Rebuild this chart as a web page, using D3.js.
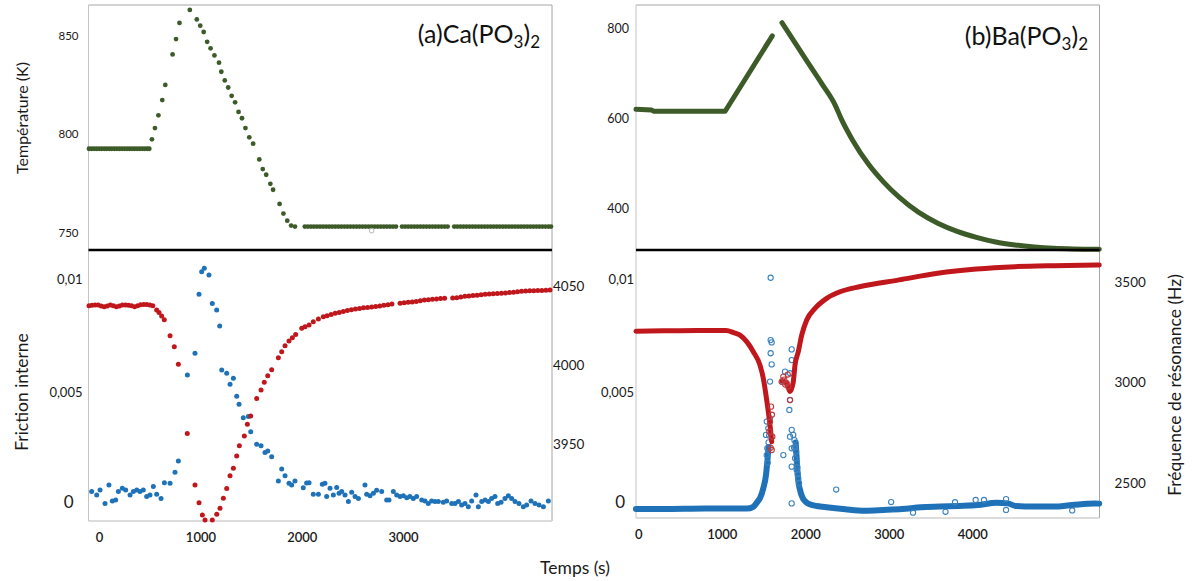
<!DOCTYPE html>
<html><head><meta charset="utf-8">
<script src="https://cdn.jsdelivr.net/npm/d3@7"></script>
<style>
body{margin:0;background:#fff;}
svg{display:block;}
</style></head><body>
<svg id="chart" width="1193" height="581"></svg>
<script>
// ---------------- DATA ----------------
// (a) Ca(PO3)2 temperature (K) vs time (s)
const caTempPlateauHighTimes = [-100,-75,-50,-25,0,25,50,75,100,125,150,175,200,225,250,275,300,325,350,375,400,425,450,475,495];
const caTempPlateauHighK = 792.5;
const caTempRampTimes = [521,551,585,623,653,725,759,793,895,964,998,1032,1066,1100,1138,1183,1206,1240,1274,1308,1342,1376,1410,1444,1482,1520,1581,1615,1649,1690,1717,1781,1819,1857,1895,1933];
const caTempRampK     = [797.3,803.0,809.5,817.2,824.9,840.4,848.2,856.4,863.0,858.2,855.0,851.8,846.8,843.5,839.9,836.2,831.6,827.2,823.6,819.4,816.1,811.2,808.0,803.0,798.3,795.1,787.1,782.2,779.3,774.7,771.7,764.5,759.6,756.0,753.5,753.0];
const caTempPlateauLowTimes = [2030,2060,2090,2120,2150,2180,2210,2240,2270,2300,2330,2360,2390,2420,2450,2480,2510,2540,2570,2600,2630,2660,2690,2720,2750,2780,2810,2840,2870,2900,2930,2990,3020,3050,3080,3110,3140,3170,3200,3230,3260,3290,3320,3350,3380,3410,3440,3505,3535,3565,3595,3625,3655,3685,3715,3745,3775,3805,3835,3865,3895,3925,3955,3985,4015,4045,4075,4105,4135,4165,4195,4225,4255,4285,4315,4345,4375,4405,4435,4460];
const caTempPlateauLowK = 753.0;
const caTempStray = [[2690, 750.9]];

// (a) resonance frequency (Hz) - red
const caFreqTimes = [-100,-70,-40,-10,20,50,80,110,140,170,200,230,260,290,320,350,380,410,440,470,500,530,
  568,591,617,643,700,742,782,870,946,986,1019,1045,1117,1161,1193,1226,1259,1292,1325,1358,1384,1433,1463,1496,1555,1598,1630,1664,1703,1769,1802,1835,1874,1907,1940,2000,2032,2072,2114,2164,2213,
  2250,2290,2330,2370,2410,2450,2490,2530,2570,2610,2650,2690,2730,2770,2810,2850,2890,2970,3010,3050,3090,3130,3170,3210,3250,3290,3330,3370,3410,3490,3530,3570,3610,3650,3690,3730,3770,3810,3850,3890,3930,3970,4010,4050,4090,4130,4170,4210,4250,4290,4330,4370,4410,4450];
const caFreqHz = [4037.9,4038.1,4038.3,4038.3,4037.7,4037.2,4037.7,4038.3,4037.9,4037.2,4037.7,4038.3,4038.3,4038.1,4037.9,4037.2,4037.9,4038.5,4038.7,4038.7,4038.3,4037.9,
  4035.1,4033.6,4031.3,4029.0,4018.8,4011.8,4000.6,3956.5,3923.8,3912.5,3904.7,3901.5,3901.5,3905.2,3909.0,3915.3,3921.6,3929.7,3934.4,3942.2,3948.8,3955.0,3962.4,3967.7,3978.9,3984.2,3989.1,3993.3,3997.1,4004.8,4008.6,4012.4,4015.4,4017.5,4019.6,4023.5,4024.5,4025.6,4027.7,4029.4,4030.9,
  4031.5,4032.3,4033.0,4033.6,4034.2,4034.8,4035.3,4035.8,4036.1,4036.5,4036.8,4037.0,4037.3,4037.7,4038.2,4038.5,4038.9,4039.5,4039.8,4040.0,4040.2,4040.5,4041.0,4041.5,4041.7,4042.0,4042.2,4042.4,4042.6,4042.8,4043.0,4043.4,4043.8,4044.0,4044.3,4044.5,4044.8,4045.1,4045.3,4045.4,4045.6,4045.8,4046.0,4046.3,4046.5,4046.8,4047.0,4047.2,4047.3,4047.4,4047.5,4047.6,4047.7,4047.8];

// (a) internal friction - blue
const caFricTimes = [-74,-24,9,58,97,130,163,190,229,262,305,338,371,403,436,469,502,535,568,611,644,700,749,782,871,946,986,1012,1038,1084,1117,1160,1190,1210,1259,1292,1325,1358,1381,1423,1473,1496,1555,1598,1637,1664,1703,1769,1802,1835,1874,1900,1933,2015,2048,2072,2114,2164,2203,2229,
  2246,2279,2312,2345,2368,2394,2427,2460,2493,2526,2559,2624,2641,2674,2707,2739,2789,2838,2861,2904,2937,2970,3003,3036,3068,3101,3134,3184,3217,3249,3282,3315,3348,3397,3430,3480,3513,3546,3578,3611,3644,3677,3720,3743,3776,3809,3842,3874,3907,3934,3967,4006,4039,4072,4105,4144,4187,4220,4263,4302,4342,4385,4434];
const caFricQ = [0.00063,0.00048,0.0007,0.00011,0.00092,0.00022,0.00026,0.00063,0.00078,0.0007,0.00048,0.00063,0.0007,0.00063,0.0007,0.00041,0.00048,0.00085,0.00051,0.00033,0.00102,0.001,0.00148,0.00198,0.00577,0.00673,0.00933,0.01033,0.01048,0.01018,0.00893,0.00864,0.00793,0.00599,0.00585,0.00536,0.00563,0.00483,0.00448,0.00389,0.00394,0.00327,0.00272,0.00265,0.00236,0.00242,0.00217,0.0011,0.00163,0.00133,0.001,0.00092,0.0011,0.0008,0.00101,0.00102,0.00051,0.00051,0.00095,0.001,
  0.00041,0.00078,0.00048,0.00081,0.00056,0.00063,0.00048,0.00019,0.0006,0.00041,0.00033,0.00092,0.00051,0.00045,0.00056,0.00069,0.00063,0.00026,0.00026,0.00063,0.00048,0.00041,0.00045,0.00036,0.00041,0.00033,0.00041,0.00026,0.00022,0.00011,0.00022,0.00019,0.00019,0.00016,0.00022,0.00011,0.00011,0.00019,0.00004,0.00011,-0.00004,0.00022,0.00048,-0.00004,0.00019,0.00026,0.00019,0.00033,0.00041,0.00011,0.00016,0.00033,0.00045,0.00033,0.00019,0.00011,-0.00004,0.00004,0.00022,0.00011,0.00004,-0.00004,0.00022];

// (b) Ba(PO3)2 temperature (K) vs time (s)
const baTempSeg1 = [[-28,620.6],[160,619.1],[183,616.2],[1040,616.2],[1605,783.6]];
const baTempSeg2 = [[1720,812.6],[2012,729.5],[2197,677.6],[2359,629.5],[2429,600],[2568,551.7],[2753,499.8],[2938,459.2],[3123,425.8],[3354,392.5],[3586,368.1],[3818,350.1],[4049,336.8],[4280,326.4],[4512,319.8],[4744,315.3],[4975,312.4],[5207,310.9],[5521,310.2]];

// (b) resonance frequency (Hz) - red band
const baFreqSeg1 = [[-28,3256],[300,3258],[700,3260],[1050,3260],[1150,3248],[1218,3237],[1298,3204],[1377,3154],[1457,3087],[1497,3021],[1529,2938],[1557,2855],[1577,2788],[1598,2705]];
const baFreqSeg2 = [[1720,3010],[1777,2997],[1817,2955],[1856,3004],[1877,3088],[1916,3154],[1957,3237],[2017,3312],[2116,3370],[2256,3420],[2416,3453],[2660,3479],[3123,3512],[3586,3545],[4049,3566],[4512,3578],[4975,3583],[5520,3586]];
const baFreqScatter = [[1569,2755],[1577,2805],[1586,2675],[1598,2664],[1605,2730],[1590,2880],[1600,2840],[1717,3004],[1737,3030],[1748,3015],[1777,2997],[1796,2980],[1817,2913],[1790,3040],[1760,2990]];

// (b) internal friction - blue band
const baFricSeg1 = [[-28,-0.00014],[300,-0.00014],[800,-0.00012],[1300,-0.00012],[1377,-0.00004],[1430,0.0002],[1457,0.00034],[1497,0.00078],[1529,0.00136],[1545,0.00195],[1560,0.0026]];
const baFricSeg2 = [[1885,0.0028],[1895,0.0022],[1905,0.0016],[1916,0.0011],[1937,0.0007],[1984,0.00026],[2074,0.00004],[2255,-0.00006],[2481,-0.00015],[2708,-0.00021],[2933,-0.00018],[3159,-0.00014],[3386,-0.00006],[3612,-0.00003],[3838,0],[4064,0.00004],[4290,0.00014],[4426,0.00011],[4516,0],[4742,-0.00003],[4969,-0.00003],[5195,0.00004],[5466,0.00011],[5520,0.0001]];
const baFricScatter = [[1585,0.01006],[1585,0.00731],[1597,0.00721],[1585,0.00673],[1597,0.00624],[1577,0.00548],[1837,0.0069],[1837,0.00643],[1757,0.00592],[1729,0.00548],[1817,0.00585],[1809,0.00423],[1817,0.00467],[1837,0.00335],[1817,0.00305],[1856,0.00313],[1737,0.00224],[1837,0.00254],[1865,0.00257],[1837,0.00173],[1877,0.0021],[1897,0.00158],[1916,0.00122],[1837,0.00011],[2370,0.00072],[1538,0.00224],[1545,0.00254],[1529,0.00313],[1557,0.00342],[1538,0.00372],[1577,0.00386],[1560,0.0028],[1567,0.0031],[1550,0.0019],[1870,0.0029],[1880,0.0026],[1890,0.0024],[1900,0.0019],[1905,0.0017],[1910,0.0014],[1925,0.001],[3028,0.00017],[3290,-0.0003],[3679,-0.00026],[3793,0.00016],[4040,0.00026],[4140,0.00026],[4404,0.0003],[4404,-0.00018],[5196,-0.0002]];

// tick labels
const xTicksA = [0,1000,2000,3000];
const xTicksB = [0,1000,2000,3000,4000];
const tempTicksA = [750,800,850];
const tempTicksB = [400,600,800];
const fricTicks = [0,0.005,0.01];
const freqTicksA = [3950,4000,4050];
const freqTicksB = [2500,3000,3500];

// ---------------- DRAWING ----------------
const FONT = "Lato, 'Open Sans', 'DejaVu Sans', sans-serif";
const GREEN = "#3d5b28", RED = "#c0171c", BLUE = "#1f72b8";
const svg = d3.select('#chart');

const PA = {x0:88.5, x1:552, top:5, mid:250, bottom:521};
const PB = {x0:636, x1:1099.5, top:5, mid:250, bottom:518};

const xA = d3.scaleLinear().domain([-105, 4470]).range([PA.x0, PA.x1]);
const xB = d3.scaleLinear().domain([-27.5, 5523]).range([PB.x0, PB.x1]);
const yTempA = d3.scaleLinear().domain([741.1, 865.5]).range([PA.mid, PA.top]);
const yTempB = d3.scaleLinear().domain([308.65, 851.9]).range([PB.mid, PB.top]);
const yFricA = d3.scaleLinear().domain([-0.000666, 0.011284]).range([PA.bottom, PA.mid]);
const yFricB = d3.scaleLinear().domain([-0.000534, 0.011284]).range([PB.bottom, PB.mid]);
const yFreqA = d3.scaleLinear().domain([3900.9, 4073.3]).range([PA.bottom, PA.mid]);
const yFreqB = d3.scaleLinear().domain([2325, 3661]).range([PB.bottom, PB.mid]);

// frames
function frame(P){
  const g = svg.append('g');
  g.append('line').attr('x1',P.x0).attr('x2',P.x1).attr('y1',P.top).attr('y2',P.top).attr('stroke','#a6a6a6');
  g.append('line').attr('x1',P.x0).attr('x2',P.x0).attr('y1',P.top).attr('y2',P.bottom).attr('stroke','#c4c4c4');
  g.append('line').attr('x1',P.x1).attr('x2',P.x1).attr('y1',P.top).attr('y2',P.bottom).attr('stroke','#a6a6a6');
  g.append('line').attr('x1',P.x0).attr('x2',P.x1).attr('y1',P.bottom).attr('y2',P.bottom).attr('stroke','#d0d0d0').attr('stroke-width',1.5);
}
frame(PA); frame(PB);

const fmtComma = d => d === 0 ? "0" : String(d).replace('.', ',');
const fmtInt = d3.format('d');

function axis(gen, tx, ty, size, weight){
  const g = svg.append('g').attr('transform',`translate(${tx},${ty})`).call(gen);
  g.select('.domain').remove();
  g.selectAll('.tick line').remove();
  g.selectAll('text').attr('font-size',size).attr('font-family',FONT).attr('fill','#1a1a1a').attr('font-weight',weight||400);
  return g;
}
axis(d3.axisLeft(yTempA).tickValues(tempTicksA).tickFormat(fmtInt).tickSize(0).tickPadding(10), PA.x0, 0, 11.5);
axis(d3.axisLeft(yTempB).tickValues(tempTicksB).tickFormat(fmtInt).tickSize(0).tickPadding(7), PB.x0, 0, 12.5);
const fa = axis(d3.axisLeft(yFricA).tickValues(fricTicks).tickFormat(fmtComma).tickSize(0).tickPadding(6), PA.x0, 0, 13);
fa.selectAll('.tick').filter(d => d === 0).select('text').attr('font-size',17).attr('x',-15).attr('dy','0.1em');
const fb = axis(d3.axisLeft(yFricB).tickValues(fricTicks).tickFormat(fmtComma).tickSize(0).tickPadding(2), PB.x0, 0, 13);
fb.selectAll('.tick').filter(d => d === 0).select('text').attr('font-size',17).attr('x',-11).attr('dy','0.1em');
axis(d3.axisRight(yFreqA).tickValues(freqTicksA).tickFormat(fmtInt).tickSize(0).tickPadding(1), PA.x1, 0, 13.5);
axis(d3.axisRight(yFreqB).tickValues(freqTicksB).tickFormat(fmtInt).tickSize(0).tickPadding(15), PB.x1, 0, 13.5);
axis(d3.axisBottom(xA).tickValues(xTicksA).tickFormat(fmtInt).tickSize(0).tickPadding(12), 0, PA.bottom, 13, 600);
axis(d3.axisBottom(xB).tickValues(xTicksB).tickFormat(fmtInt).tickSize(0).tickPadding(12), 0, PB.bottom, 13, 600);

// ---- (a) temperature dots
const caTempPts = caTempPlateauHighTimes.map(t => [t, caTempPlateauHighK])
  .concat(caTempRampTimes.map((t,i) => [t, caTempRampK[i]]))
  .concat(caTempPlateauLowTimes.map(t => [t, caTempPlateauLowK]));
svg.append('g').selectAll('circle').data(caTempPts).join('circle')
  .attr('cx', d => xA(d[0])).attr('cy', d => yTempA(d[1])).attr('r', 2.4).attr('fill', GREEN);
svg.append('g').selectAll('circle').data(caTempStray).join('circle')
  .attr('cx', d => xA(d[0])).attr('cy', d => yTempA(d[1])).attr('r', 2.3).attr('fill','none').attr('stroke','#b5b5b5');

// ---- (b) temperature line
const lineB1 = d3.line().x(d => xB(d[0])).y(d => yTempB(d[1]));
const lineB2 = d3.line().x(d => xB(d[0])).y(d => yTempB(d[1])).curve(d3.curveMonotoneX);
svg.append('path').attr('d', lineB1(baTempSeg1))
  .attr('fill','none').attr('stroke',GREEN).attr('stroke-width',5).attr('stroke-linecap','round').attr('stroke-linejoin','round');
svg.append('path').attr('d', lineB2(baTempSeg2))
  .attr('fill','none').attr('stroke',GREEN).attr('stroke-width',5).attr('stroke-linecap','round');

// dividers
[PA, PB].forEach(P => svg.append('line').attr('x1',P.x0).attr('x2',P.x1).attr('y1',P.mid).attr('y2',P.mid)
  .attr('stroke','#000').attr('stroke-width',2.5));

// ---- (a) bottom: friction (blue) and frequency (red)
svg.append('g').selectAll('circle').data(caFricTimes.map((t,i)=>[t, caFricQ[i]])).join('circle')
  .attr('cx', d => xA(d[0])).attr('cy', d => yFricA(d[1])).attr('r', 2.5).attr('fill', BLUE);
svg.append('g').selectAll('circle').data(caFreqTimes.map((t,i)=>[t, caFreqHz[i]])).join('circle')
  .attr('cx', d => xA(d[0])).attr('cy', d => yFreqA(d[1])).attr('r', 2.5).attr('fill', RED);

// ---- (b) bottom
const fricLineB = d3.line().x(d => xB(d[0])).y(d => yFricB(d[1])).curve(d3.curveMonotoneX);
const freqLineB = d3.line().x(d => xB(d[0])).y(d => yFreqB(d[1])).curve(d3.curveMonotoneX);
[baFricSeg1, baFricSeg2].forEach(seg => svg.append('path').attr('d', fricLineB(seg))
  .attr('fill','none').attr('stroke',BLUE).attr('stroke-width',6).attr('stroke-linecap','round'));
svg.append('g').selectAll('circle').data(baFricScatter).join('circle')
  .attr('cx', d => xB(d[0])).attr('cy', d => yFricB(d[1])).attr('r', 2.6)
  .attr('fill','none').attr('stroke','#3b83bf').attr('stroke-width',1.1);
[baFreqSeg1, baFreqSeg2].forEach(seg => svg.append('path').attr('d', freqLineB(seg))
  .attr('fill','none').attr('stroke',RED).attr('stroke-width',5).attr('stroke-linecap','round'));
svg.append('g').selectAll('circle').data(baFreqScatter).join('circle')
  .attr('cx', d => xB(d[0])).attr('cy', d => yFreqB(d[1])).attr('r', 2.6)
  .attr('fill','none').attr('stroke','#c0393c').attr('stroke-width',1.1);

// ---- titles
function chemTitle(x, y, prefix){
  const t = svg.append('text').attr('x',x).attr('y',y).attr('text-anchor','end')
    .attr('font-family',FONT).attr('font-size',25).attr('fill','#111');
  t.append('tspan').text(prefix + '(PO');
  t.append('tspan').attr('font-size',17).attr('dy',5).text('3');
  t.append('tspan').attr('dy',-5).text(')');
  t.append('tspan').attr('font-size',17).attr('dy',5).text('2');
}
chemTitle(540, 43, '(a)Ca');
chemTitle(1088, 45, '(b)Ba');

function label(text, x, y, rot, size){
  svg.append('text').attr('transform',`translate(${x},${y}) rotate(${rot})`)
    .attr('text-anchor','middle').attr('dominant-baseline','central')
    .attr('font-family',FONT).attr('font-size',size).attr('fill','#1a1a1a').text(text);
}
label('Température (K)', 21, 118, -90, 16);
label('Friction interne', 21, 392, -90, 17.5);
label('Temps (s)', 575, 567, 0, 17.5);
label('Fréquence de résonance (Hz)', 1174, 385, -90, 17.5);
</script>
</body></html>
